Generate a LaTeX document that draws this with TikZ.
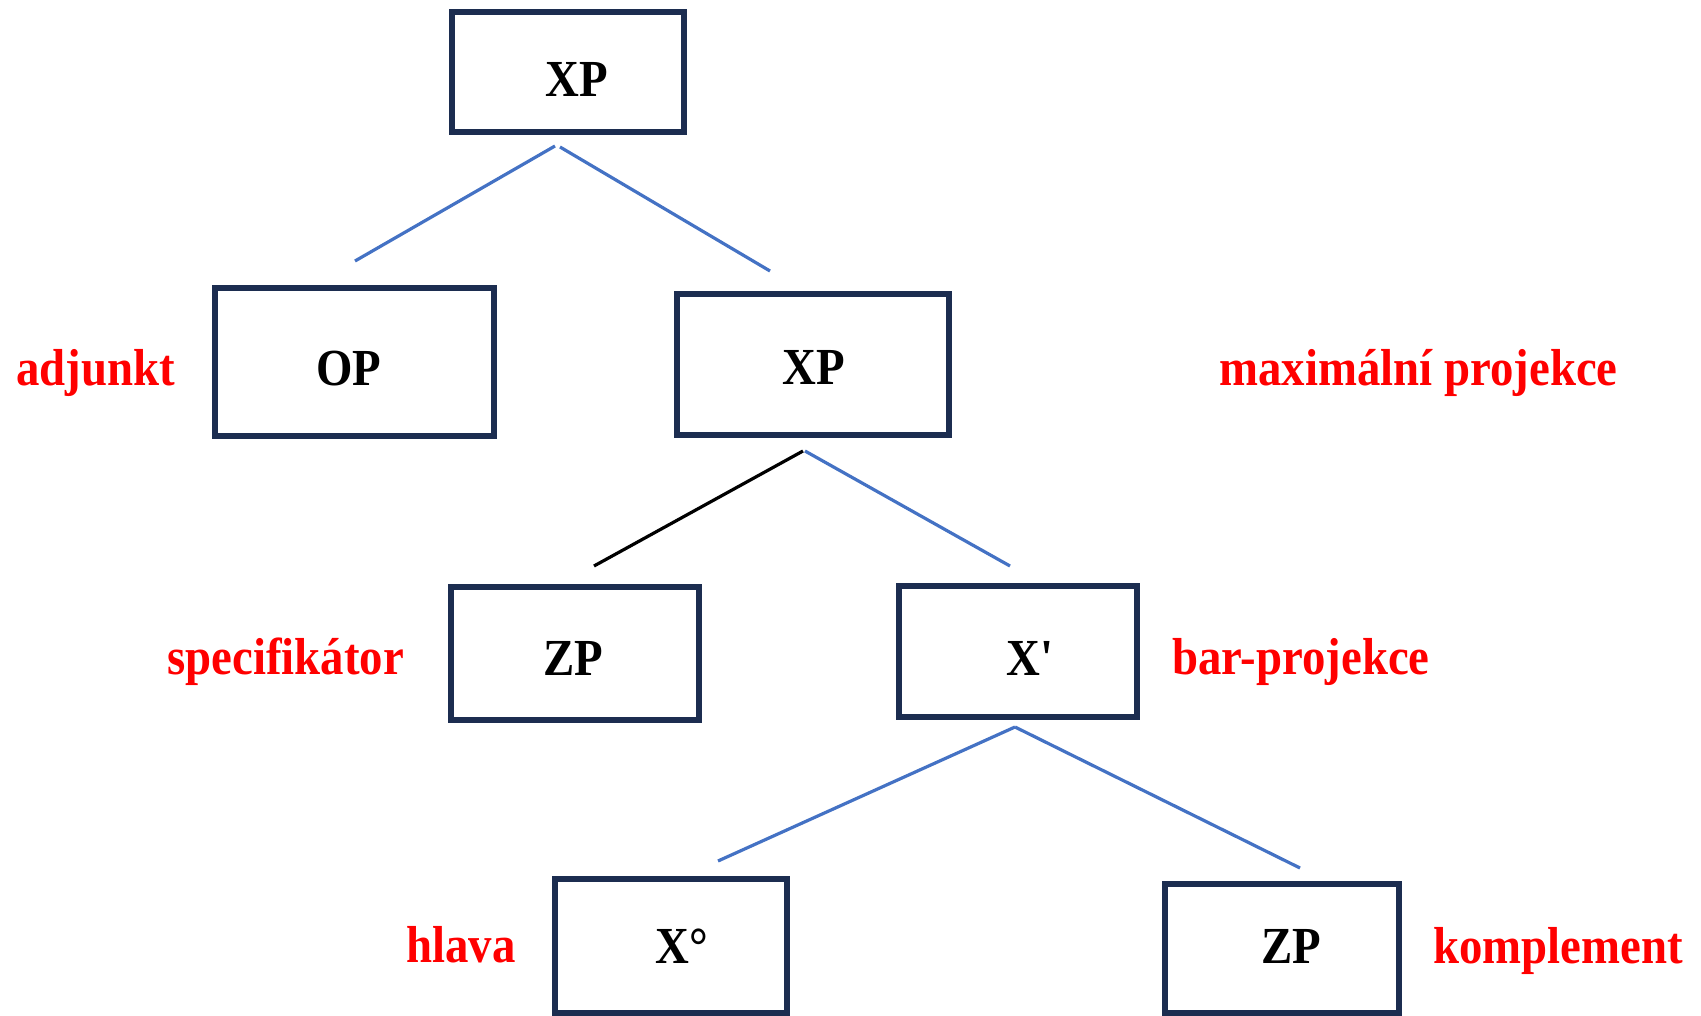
\documentclass[tikz,border=0pt]{standalone}
\usepackage{fontspec}
\setmainfont{Liberation Serif}[FakeStretch=0.9]
\newfontfamily\plainfont{Liberation Serif}[FakeStretch=0.9]
\definecolor{boxc}{HTML}{1C2D50}
\definecolor{linec}{HTML}{4472C4}
\definecolor{labc}{HTML}{FF0000}
\begin{document}
\begin{tikzpicture}[x=0.5pt,y=-0.5pt,
  box/.style={draw=boxc,line width=2.75pt,rectangle,inner sep=0pt,fill=none},
  cat/.style={anchor=base west,inner sep=0pt,font=\fontsize{26}{30}\selectfont\bfseries,text=black},
  lab/.style={anchor=base west,inner sep=0pt,font=\fontsize{26}{30}\selectfont\bfseries,text=labc},
  conn/.style={draw=linec,line width=1.6pt},
  connk/.style={draw=black,line width=1.6pt}]
\useasboundingbox (0,0) rectangle (1701,1016);
% boxes
\node[box,minimum width=116pt,minimum height=60pt] (b1) at (568,72) {};
\node[box,minimum width=139.5pt,minimum height=74pt] (b2) at (354.5,362) {};
\node[box,minimum width=136pt,minimum height=70.5pt] (b3) at (813,364.5) {};
\node[box,minimum width=124pt,minimum height=66.5pt] (b4) at (575,653.5) {};
\node[box,minimum width=119pt,minimum height=65.5pt] (b5) at (1018,651.5) {};
\node[box,minimum width=116pt,minimum height=67pt] (b6) at (671,946) {};
\node[box,minimum width=117pt,minimum height=64.5pt] (b7) at (1282,948.5) {};
% box texts
\node[cat] (t1) at (545,97) {XP};
\node[cat] (t2) at (316,385) {OP};
\node[cat] (t3) at (782,384) {XP};
\node[cat] (t4) at (543,675) {ZP};
\node[cat,font=\fontsize{26}{30}\plainfont\bfseries] (t5) at (1006,675) {X'};
\node[cat] (t6) at (655,963) {X°};
\node[cat] (t7) at (1261,963) {ZP};
% labels
\node[lab] (l1) at (16,385) {adjunkt};
\node[lab] (l2) at (1219,385) {maximální projekce};
\node[lab] (l3) at (167,674) {specifikátor};
\node[lab] (l4) at (1172,674) {bar-projekce};
\node[lab] (l5) at (406,962) {hlava};
\node[lab] (l6) at (1433,963) {komplement};
% connector end points
\coordinate (a1) at (555,146);
\coordinate (a2) at (560,147);
\coordinate (e1) at (355,261);
\coordinate (e2) at (770,271);
\coordinate (a3) at (803,451);
\coordinate (a4) at (805,451);
\coordinate (e3) at (594,566);
\coordinate (e4) at (1010,566);
\coordinate (a5) at (1015,727);
\coordinate (e5) at (718,861);
\coordinate (e6) at (1300,868);
\draw[conn] (a1) -- (e1);
\draw[conn] (a2) -- (e2);
\draw[connk] (a3) -- (e3);
\draw[conn] (a4) -- (e4);
\draw[conn] (a5) -- (e5);
\draw[conn] (a5) -- (e6);
\end{tikzpicture}
\end{document}
